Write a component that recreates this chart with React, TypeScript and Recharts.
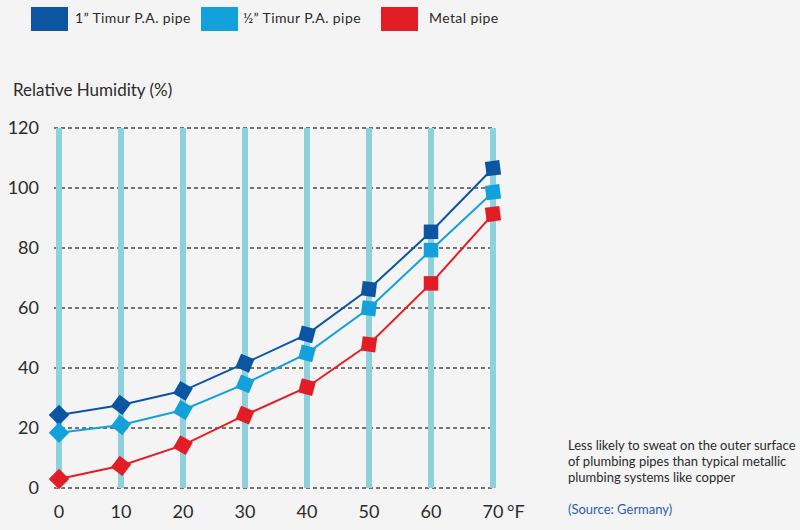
import React from "react";
import { CartesianGrid, Line, LineChart, ReferenceLine, XAxis, YAxis } from "recharts";

const temperatures = [0, 10, 20, 30, 40, 50, 60, 70];
const oneInchPipe = [24.3, 27.7, 32.4, 41.6, 51.2, 66.3, 85.4, 106.6];
const halfInchPipe = [18.4, 21, 26, 34.7, 44.9, 59.9, 79.3, 98.6];
const metalPipe = [3, 7.4, 14.3, 24.3, 33.6, 47.9, 68.2, 91.3];
const yTicks = [0, 20, 40, 60, 80, 100, 120];

const seriesNames = ["1\u201D Timur P.A. pipe", "\u00BD\u201D Timur P.A. pipe", "Metal pipe"];
const seriesKeys = ["oneInch", "halfInch", "metal"];
const seriesColors = ["#0b55a3", "#13a1dc", "#e31d25"];

const noteLines = [
  "Less likely to sweat on the outer surface",
  "of plumbing pipes than typical metallic",
  "plumbing systems like copper",
];
const sourceText = "(Source: Germany)";

const data = temperatures.map((t, i) => ({
  temp: t,
  oneInch: oneInchPipe[i],
  halfInch: halfInchPipe[i],
  metal: metalPipe[i],
}));

const FONT = "Lato, 'Open Sans', sans-serif";

// square marker that turns from a diamond into a square as the curve steepens
function RotatedSquare(props: any) {
  const { cx, cy, index, fill } = props;
  if (cx == null || cy == null) return null;
  const angle = 45 - index * 7.5;
  const s = 14.5;
  return (
    <rect
      key={`dot-${index}`}
      x={cx - s / 2}
      y={cy - s / 2}
      width={s}
      height={s}
      fill={fill}
      transform={`rotate(${angle} ${cx} ${cy})`}
    />
  );
}

const legendX = [31, 201, 381];
const legendTextX = [75, 243, 429];

export default function App() {
  return (
    <div
      style={{
        position: "absolute",
        left: 0,
        top: 0,
        width: 800,
        height: 530,
        background: "#f4f4f4",
        fontFamily: FONT,
        color: "#2b2b2b",
      }}
    >
      {seriesNames.map((name, i) => (
        <React.Fragment key={name}>
          <div
            style={{
              position: "absolute",
              left: legendX[i],
              top: 7,
              width: 37,
              height: 24,
              background: seriesColors[i],
            }}
          />
          <div
            style={{
              position: "absolute",
              left: legendTextX[i],
              top: 9,
              fontSize: 14,
              lineHeight: "18px",
              letterSpacing: 0.4,
              whiteSpace: "nowrap",
            }}
          >
            {name}
          </div>
        </React.Fragment>
      ))}

      <div
        style={{
          position: "absolute",
          left: 13,
          top: 79,
          fontSize: 17,
          lineHeight: "22px",
          whiteSpace: "nowrap",
        }}
      >
        Relative Humidity (%)
      </div>

      <div style={{ position: "absolute", left: 0, top: 0 }}>
        <LineChart
          width={800}
          height={530}
          data={data}
          margin={{ top: 128, right: 305, bottom: 12, left: 0 }}
        >
          <CartesianGrid
            vertical={false}
            stroke="#4a4a4a"
            strokeDasharray="4 3"
            strokeWidth={1.5}
          />
          {temperatures.map((t) => (
            <ReferenceLine key={t} x={t} stroke="#8ed0dc" strokeWidth={6} />
          ))}
          <XAxis
            dataKey="temp"
            type="number"
            domain={[0, 70]}
            ticks={temperatures}
            padding={{ left: 5, right: 2 }}
            height={30}
            axisLine={false}
            tickLine={false}
            tickSize={6}
            tickMargin={11}
            tick={{ fill: "#2b2b2b", fontSize: 18, fontFamily: FONT }}
          />
          <YAxis
            type="number"
            domain={[0, 120]}
            ticks={yTicks}
            width={54}
            axisLine={false}
            tickLine={false}
            tickSize={6}
            tickMargin={9}
            tick={{ fill: "#2b2b2b", fontSize: 18, fontFamily: FONT }}
          />
          {seriesKeys.map((key, i) => (
            <Line
              key={key}
              dataKey={key}
              name={seriesNames[i]}
              type="linear"
              stroke={seriesColors[i]}
              strokeWidth={2}
              fill={seriesColors[i]}
              dot={(p: any) => <RotatedSquare {...p} fill={seriesColors[i]} />}
              activeDot={false}
              isAnimationActive={false}
            />
          ))}
        </LineChart>
      </div>

      <div
        style={{
          position: "absolute",
          left: 507,
          top: 500,
          fontSize: 18,
          lineHeight: "22px",
          whiteSpace: "nowrap",
        }}
      >
        °F
      </div>

      <div
        style={{
          position: "absolute",
          left: 568,
          top: 437,
          fontSize: 13,
          lineHeight: "16px",
          whiteSpace: "nowrap",
        }}
      >
        {noteLines.map((l) => (
          <div key={l}>{l}</div>
        ))}
        <div style={{ color: "#2a5db0", marginTop: 16 }}>{sourceText}</div>
      </div>
    </div>
  );
}
